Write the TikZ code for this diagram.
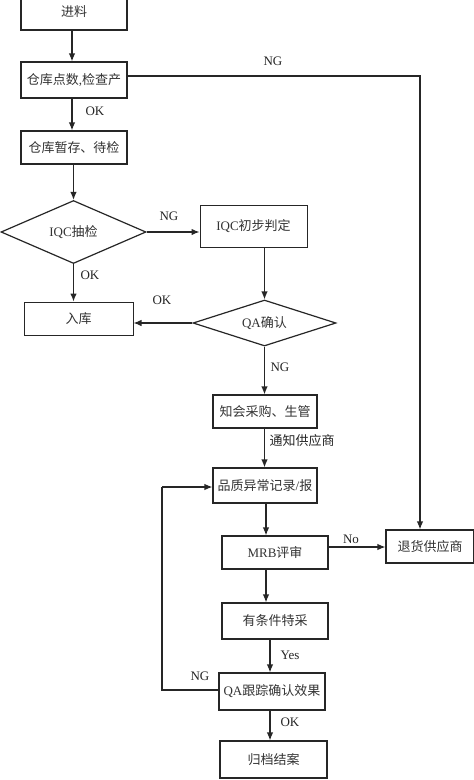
\documentclass[tikz,border=0pt]{standalone}
\usepackage{fontspec}
\setmainfont{Liberation Serif}
\newfontfamily\cjk{Noto Sans CJK SC}
\usetikzlibrary{shapes.geometric,arrows.meta}
\begin{document}
\begin{tikzpicture}[x=1pt,y=-1pt,
  box/.style={draw=black!85, line width=1.2pt, inner sep=0pt, font=\fontsize{13}{15}\selectfont, text=black!80},
  dia/.style={draw=black!85, line width=1.2pt, diamond, aspect=2.3, inner sep=0pt, font=\fontsize{13}{15}\selectfont, text=black!80},
  arr/.style={draw=black!85, line width=1.2pt, -{Latex[length=8pt,width=6.5pt]}},
  ln/.style={draw=black!85, line width=1.2pt},
  lbl/.style={inner sep=0pt, font=\fontsize{13}{15}\selectfont, text=black!85}]
\fill[white] (0,0) rectangle (474,780);
\useasboundingbox (0,0) rectangle (474,780);
% boxes
\node[box, minimum width=106pt, minimum height=36pt] (b1) at (74,12) {\cjk 进料};
\node[box, minimum width=106pt, minimum height=36pt] (b2) at (74,80) {\cjk 仓库点数{\rmfamily ,}检查产};
\node[box, minimum width=106pt, minimum height=33pt] (b3) at (74,147.5) {\cjk 仓库暂存、待检};
\node[dia, minimum width=145pt, minimum height=63pt] (d1) at (73.5,232) {IQC{\cjk 抽检}};
\node[box, minimum width=107pt, minimum height=42pt, line width=1pt] (b4) at (253.5,226) {IQC{\cjk 初步判定}};
\node[dia, minimum width=143pt, minimum height=46pt] (d2) at (264.5,323) {QA{\cjk 确认}};
\node[box, minimum width=109pt, minimum height=33pt, line width=1pt] (b5) at (78.5,318.5) {\cjk 入库};
\node[box, minimum width=104pt, minimum height=33pt] (b6) at (265,411.5) {\cjk 知会采购、生管};
\node[box, minimum width=104pt, minimum height=35pt] (b7) at (265,485.5) {\cjk 品质异常记录{\rmfamily /}报};
\node[box, minimum width=106pt, minimum height=33pt] (b8) at (275,552.5) {MRB{\cjk 评审}};
\node[box, minimum width=88pt, minimum height=33pt] (r) at (430,546.5) {\cjk 退货供应商};
\node[box, minimum width=106pt, minimum height=36pt] (b9) at (275,621) {\cjk 有条件特采};
\node[box, minimum width=106pt, minimum height=37pt] (b10) at (272,691.5) {QA{\cjk 跟踪确认效果}};
\node[box, minimum width=107pt, minimum height=37pt] (b11) at (273.5,759.5) {\cjk 归档结案};
% helper coordinates
\coordinate (c72) at (72,0);
\coordinate (cr) at (420,76);
\coordinate (c266) at (266,0);
\coordinate (c270) at (270,0);
\coordinate (fb) at (162,690);
\coordinate (fb2) at (162,487);
% connectors
\draw[arr] (c72 |- b1.south) -- (c72 |- b2.north);
\draw[arr] (c72 |- b2.south) -- (c72 |- b3.north);
\draw[arr] (d1.north |- b3.south) -- (d1.north);
\draw[arr] (b2.east |- cr) -- (cr) -- (cr |- r.north);
\draw[arr] (d1.east) -- (d1.east -| b4.west);
\draw[arr] (d2.north |- b4.south) -- (d2.north);
\draw[arr] (d1.south) -- (d1.south |- b5.north);
\draw[arr] (d2.west) -- (d2.west -| b5.east);
\draw[arr] (d2.south) -- (d2.south |- b6.north);
\draw[arr] (d2.south |- b6.south) -- (d2.south |- b7.north);
\draw[arr] (c266 |- b7.south) -- (c266 |- b8.north);
\draw[arr] (b8.east |- 0,547) -- (r.west |- 0,547);
\draw[arr] (c266 |- b8.south) -- (c266 |- b9.north);
\draw[arr] (c270 |- b9.south) -- (c270 |- b10.north);
\draw[arr] (c270 |- b10.south) -- (c270 |- b11.north);
\draw[ln] (b10.west |- fb) -- (fb) -- (fb2);
\draw[arr] (fb2) -- (b7.west |- fb2);
% labels
\node[lbl] (l1) at (273,61) {NG};
\node[lbl] (l2) at (95,111) {OK};
\node[lbl] (l3) at (169,216) {NG};
\node[lbl] (l4) at (90,275) {OK};
\node[lbl] (l5) at (162,300) {OK};
\node[lbl] (l6) at (280,367) {NG};
\node[lbl] (l7) at (302,441) {\cjk 通知供应商};
\node[lbl] (l8) at (351,539) {No};
\node[lbl] (l9) at (290,655) {Yes};
\node[lbl] (l10) at (200,676) {NG};
\node[lbl] (l11) at (290,722) {OK};
\end{tikzpicture}
\end{document}
